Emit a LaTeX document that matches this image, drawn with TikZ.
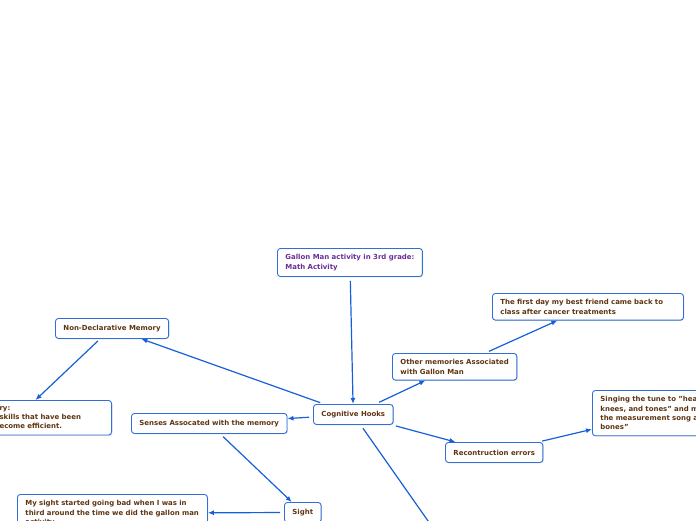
\documentclass[tikz,border=0pt]{standalone}
\usepackage{fontspec}
\setmainfont{DejaVu Sans}
\usetikzlibrary{arrows.meta,shadows,calc}
\definecolor{mmEdge}{HTML}{2F6FD6}
\definecolor{mmLink}{HTML}{1560DA}
\definecolor{mmText}{HTML}{5E3512}
\definecolor{mmTopic}{HTML}{6B2D9A}
\tikzset{
  mmnode/.style={
    draw=mmEdge, line width=0.9pt, fill=white, rounded corners=3pt,
    drop shadow={shadow xshift=0.8pt, shadow yshift=-0.8pt, opacity=0.25},
    font=\fontsize{6.95}{9.3}\selectfont\bfseries, text=mmText, align=left,
    inner xsep=8pt, inner ysep=6pt, minimum height=20pt, anchor=north west
  },
  mmtopic/.style={mmnode, text=mmTopic},
  mmlink/.style={-{Latex[length=6pt,width=5pt]}, line width=1.2pt, mmLink, shorten <=4pt},
  mmline/.style={line width=1.2pt, mmLink, shorten <=4pt}
}
\begin{document}
\begin{tikzpicture}[x=1pt, y=-1pt]
  \useasboundingbox (0,0) rectangle (696,520);
  \clip (0,0) rectangle (696,520);
  % central topic and hook
  \node[mmtopic] (gallon) at (277,248) {Gallon Man activity in 3rd grade:\\Math Activity};
  \node[mmnode, minimum width=79pt] (hooks) at (313,404) {Cognitive Hooks};
  % left branch
  \node[mmnode] (nondecl) at (55,318) {Non-Declarative Memory};
  \node[mmnode, anchor=north east, text width=104pt] (motor) at (112,400) {ry:\\skills that have been\\ecome efficient.};
  \node[mmnode] (senses) at (131,413) {Senses Assocated with the memory};
  \node[mmnode] (sight) at (284,502) {Sight};
  \node[mmnode, text width=174pt] (mysight) at (17,494) {My sight started going bad when I was in\\third around the time we did the gallon man\\activity};
  % right branch
  \node[mmnode] (other) at (392,353) {Other memories Associated\\with Gallon Man};
  \node[mmnode, text width=175pt] (friend) at (492,293) {The first day my best friend came back to\\class after cancer treatments};
  \node[mmnode] (recon) at (445,442) {Recontruction errors};
  \node[mmnode, text width=120pt] (song) at (592,390) {Singing the tune to "hea\\knees, and tones" and m\\the measurement song a\\bones"};
  \coordinate (below) at (440,538);
  % connectors
  \draw[mmlink] (gallon) -- (hooks);
  \draw[mmlink] (hooks) -- (nondecl);
  \draw[mmlink, shorten <=3pt] ($(nondecl.south)+(-12,0)$) -- ($(motor.north)+(-16,0)$);
  \draw[mmlink] (hooks) -- (senses);
  \draw[mmlink] (senses) -- (sight);
  \draw[mmlink] (sight) -- (mysight);
  \draw[mmlink] (hooks) -- (other);
  \draw[mmlink] (other) -- (friend);
  \draw[mmlink] (hooks) -- (recon);
  \draw[mmlink] (recon) -- (song);
  \draw[mmline] (hooks) -- (below);
\end{tikzpicture}
\end{document}
